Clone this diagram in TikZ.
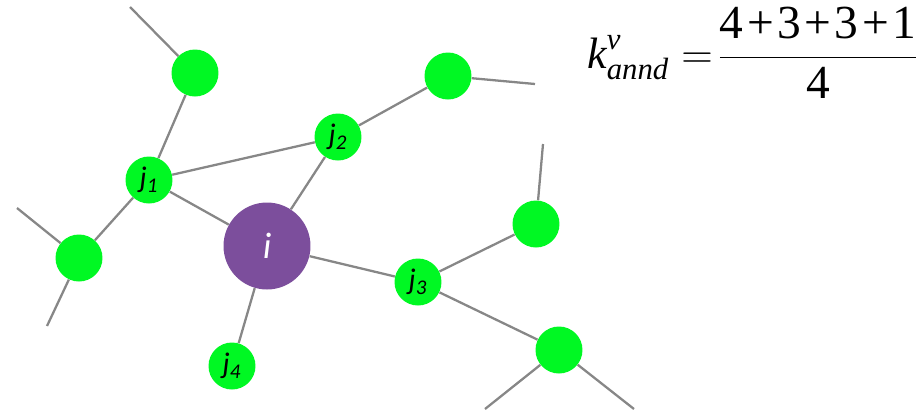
\documentclass[tikz,border=0pt]{standalone}
\usepackage{fontspec}
\usepackage{amsmath}
\setmainfont{Liberation Serif}
\newfontfamily\labelfont{Carlito}
\usetikzlibrary{positioning}
\definecolor{mygreen}{RGB}{0,248,35}
\definecolor{mypurple}{RGB}{124,78,156}
\definecolor{mygray}{RGB}{135,135,135}
\tikzset{
  leaf/.style={circle, fill=mygreen, inner sep=0pt, minimum size=0.94cm,
    font=\labelfont\itshape\fontsize{17}{17}\selectfont},
  hub/.style={circle, fill=mypurple, inner sep=0pt, minimum size=1.74cm,
    text=white, font=\labelfont\itshape\fontsize{21}{21}\selectfont},
  link/.style={line width=1.3pt, color=mygray}
}
\newcommand{\pk}{\kern2pt}
\newcommand{\fracfont}{\fontsize{27}{30}\selectfont}

\begin{document}
\begin{tikzpicture}[x=0.02cm, y=-0.02cm]
  \useasboundingbox (0,0) rectangle (921,414);
  % ── Free ends of the outer links ───────────────────────────────────────────
  \coordinate (etop)  at (130,7);
  \coordinate (etopr) at (535,84);
  \coordinate (eleftA) at (17,208);
  \coordinate (eleftB) at (47,326);
  \coordinate (eright) at (543,144);
  \coordinate (ebotA) at (485,409);
  \coordinate (ebotB) at (634,409);
  % ── Nodes ──────────────────────────────────────────────────────────────────
  \node[hub]  (i)    at (267,246) {i};
  \node[leaf] (j1)   at (149,180) {j\textsubscript{1}};
  \node[leaf] (j2)   at (338,137) {j\textsubscript{2}};
  \node[leaf] (j3)   at (418,282) {j\textsubscript{3}};
  \node[leaf] (j4)   at (232,366) {j\textsubscript{4}};
  \node[leaf] (top)  at (195,73)  {};
  \node[leaf] (topr) at (448,76)  {};
  \node[leaf] (left) at (79,258)  {};
  \node[leaf] (right) at (536,224) {};
  \node[leaf] (botr) at (559,350) {};
  % ── Links ──────────────────────────────────────────────────────────────────
  \draw[link] (i) -- (j1);
  \draw[link] (i) -- (j2);
  \draw[link] (i) -- (j3);
  \draw[link] (i) -- (j4);
  \draw[link] (j1) -- (j2);
  \draw[link] (j1) -- (top);
  \draw[link] (j1) -- (left);
  \draw[link] (j2) -- (topr);
  \draw[link] (j3) -- (right);
  \draw[link] (j3) -- (botr);
  \draw[link] (top) -- (etop);
  \draw[link] (topr) -- (etopr);
  \draw[link] (left) -- (eleftA);
  \draw[link] (left) -- (eleftB);
  \draw[link] (right) -- (eright);
  \draw[link] (botr) -- (ebotA);
  \draw[link] (botr) -- (ebotB);
  % ── Formula ────────────────────────────────────────────────────────────────
  \node[anchor=west, inner sep=0pt, font=\fontsize{25}{28}\selectfont] (annd) at (587,53)
    {$\displaystyle \text{\itshape k}^{\text{\itshape v}}_{\text{\itshape annd}}
      =\! \frac{\text{\fracfont 4\pk+\pk3\pk+\pk3\pk+\pk1}}{\text{\fracfont 4}}$};
\end{tikzpicture}
\end{document}
